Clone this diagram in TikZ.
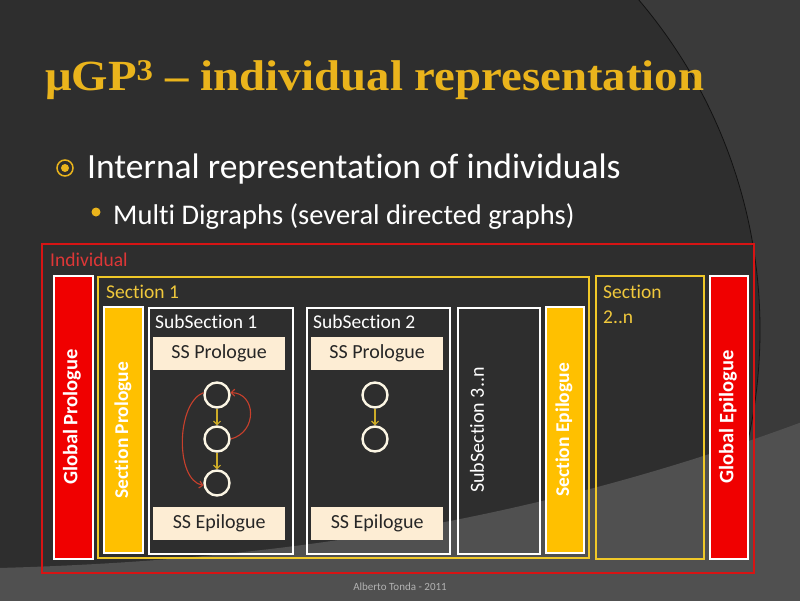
\documentclass[tikz,border=0pt]{standalone}
\usepackage{fontspec}
\setmainfont{Carlito}[Ligatures=NoCommon]
\newfontfamily\titlefont{Liberation Serif}
\usetikzlibrary{arrows.meta}
\definecolor{bgdark}{RGB}{46,46,46}
\definecolor{bgarc}{RGB}{58,58,58}
\definecolor{bglight}{RGB}{80,80,80}
\definecolor{gold}{RGB}{234,180,28}
\definecolor{indred}{RGB}{215,20,20}
\definecolor{barred}{RGB}{240,0,0}
\definecolor{baryel}{RGB}{255,192,0}
\definecolor{secyel}{RGB}{240,200,40}
\definecolor{cream}{RGB}{253,237,212}
\definecolor{ringc}{RGB}{252,246,228}
\definecolor{redarr}{RGB}{200,64,44}
\definecolor{yelarr}{RGB}{205,172,40}
\definecolor{labgold}{RGB}{240,200,60}
\tikzset{
  box/.style={rectangle, inner sep=0pt, anchor=north west},
  redbar/.style={box, fill=barred, draw=white, line width=1.8pt},
  yelbar/.style={box, fill=baryel, draw=white, line width=1.8pt},
  subbox/.style={box, draw=white, line width=1.8pt},
  secbox/.style={box, draw=secyel, line width=1.8pt},
  ssbox/.style={box, fill=cream, minimum width=132pt, minimum height=33pt},
  sstext/.style={font=\fontsize{20}{22}\selectfont, text=black!85},
  vtext/.style={rotate=90, text=white, font=\bfseries\fontsize{19.5}{22}\selectfont},
  lab/.style={anchor=west, inner sep=0pt, font=\fontsize{19.5}{22}\selectfont},
  ring/.style={circle, draw=ringc, line width=2.4pt, minimum size=25pt, inner sep=0pt},
  yarr/.style={draw=yelarr, line width=1.1pt, -{Straight Barb[length=3.5pt,width=7pt]}},
  rarr/.style={draw=redarr, line width=1.1pt, -{Straight Barb[length=3.5pt,width=7pt]}},
  titlestyle/.style={anchor=base west, inner sep=0pt, xscale=1.088, font=\titlefont\bfseries\fontsize{43}{48}\selectfont},
}
\begin{document}
\begin{tikzpicture}[x=1pt,y=-1pt]
\useasboundingbox (0,0) rectangle (800,600);
% background
\begin{scope}
\clip (0,0) rectangle (800,600);
\fill[bgdark] (-2,-2) rectangle (802,602);
\fill[bgarc, even odd rule] (-2,-2) rectangle (802,602) (250,330) circle (510);
\draw[black!60!bgdark, line width=0.8pt] (250,330) circle (510);
\fill[bglight] (-2,568) .. controls (300,560) and (550,515) .. (802,422) -- (802,602) -- (-2,602) -- cycle;
\end{scope}
% title
\node[titlestyle, text=gold] (title) at (45,90) {μGP\textsuperscript{3} – individual representation};
% bullets
\draw[gold, line width=1.5pt] (65,168) circle (8);
\fill[gold] (65,168) circle (4);
\fill[gold] (96,212) circle (4.5);
\node[anchor=base west, inner sep=0pt, text=white, font=\fontsize{35.5}{40}\selectfont] (b1) at (87,178) {Internal representation of individuals};
\node[anchor=base west, inner sep=0pt, text=white, font=\fontsize{28.5}{32}\selectfont] (b2) at (113,224) {Multi Digraphs (several directed graphs)};
% individual
\node[box, draw=indred, line width=2pt, minimum width=712pt, minimum height=329pt] (ind) at (41,243) {};
\node[lab, text=indred!85!white] (indlab) at (50,260) {Individual};
% global prologue / epilogue
\node[redbar, minimum width=39pt, minimum height=283pt] (gp) at (53,275) {};
\node[vtext, font=\bfseries\fontsize{20.5}{22}\selectfont] (gptxt) at (72,417) {Global Prologue};
\node[redbar, minimum width=38pt, minimum height=283pt] (ge) at (709,275) {};
\node[vtext, font=\bfseries\fontsize{20.5}{22}\selectfont] (getxt) at (728,417) {Global Epilogue};
% section 1
\node[secbox, minimum width=491pt, minimum height=281pt] (s1) at (97,276) {};
\node[lab, text=labgold] (s1lab) at (106,292) {Section 1};
\node[yelbar, minimum width=39pt, minimum height=246pt] (sp) at (103,306) {};
\node[vtext] (sptxt) at (123,430) {Section Prologue};
\node[yelbar, minimum width=38pt, minimum height=246pt] (se) at (545,306) {};
\node[vtext] (setxt) at (564,430) {Section Epilogue};
% section 2..n
\node[secbox, minimum width=108pt, minimum height=283pt] (s2) at (595,275) {};
\node[lab, text=labgold] (s2laba) at (603,292) {Section};
\node[lab, text=labgold] (s2labb) at (603,317) {2..n};
% subsection 1
\node[subbox, minimum width=144pt, minimum height=246pt] (ss1) at (148,307) {};
\node[lab, text=white] (ss1lab) at (155,322) {SubSection 1};
\node[ssbox] (ss1p) at (153,337) {};
\node[sstext] at (ss1p.center) {SS Prologue};
\node[ssbox] (ss1e) at (153,507) {};
\node[sstext] at (ss1e.center) {SS Epilogue};
\node[ring] (a1) at (217,395) {};
\node[ring] (a2) at (217,439) {};
\node[ring] (a3) at (217,483) {};
\draw[yarr] (a1) -- (a2);
\draw[yarr] (a2) -- (a3);
\draw[rarr] (a1.170) .. controls (176,403) and (175,480) .. (a3.190);
\draw[rarr] (a2.east) .. controls (258,432) and (256,393) .. (a1.10);
% subsection 2
\node[subbox, minimum width=143pt, minimum height=246pt] (ss2) at (306,307) {};
\node[lab, text=white] (ss2lab) at (313,322) {SubSection 2};
\node[ssbox] (ss2p) at (311,337) {};
\node[sstext] at (ss2p.center) {SS Prologue};
\node[ssbox] (ss2e) at (311,507) {};
\node[sstext] at (ss2e.center) {SS Epilogue};
\node[ring] (b1c) at (375,395) {};
\node[ring] (b2c) at (375,439) {};
\draw[yarr] (b1c) -- (b2c);
% subsection 3..n
\node[subbox, minimum width=82pt, minimum height=246pt] (ss3) at (457,307) {};
\node[vtext, font=\fontsize{20}{22}\selectfont] (ss3txt) at (477,430) {SubSection 3..n};
% footer
\node[text=black!30, font=\fontsize{11}{13}\selectfont] (foot) at (400,587) {Alberto Tonda - 2011};
\end{tikzpicture}
\end{document}
